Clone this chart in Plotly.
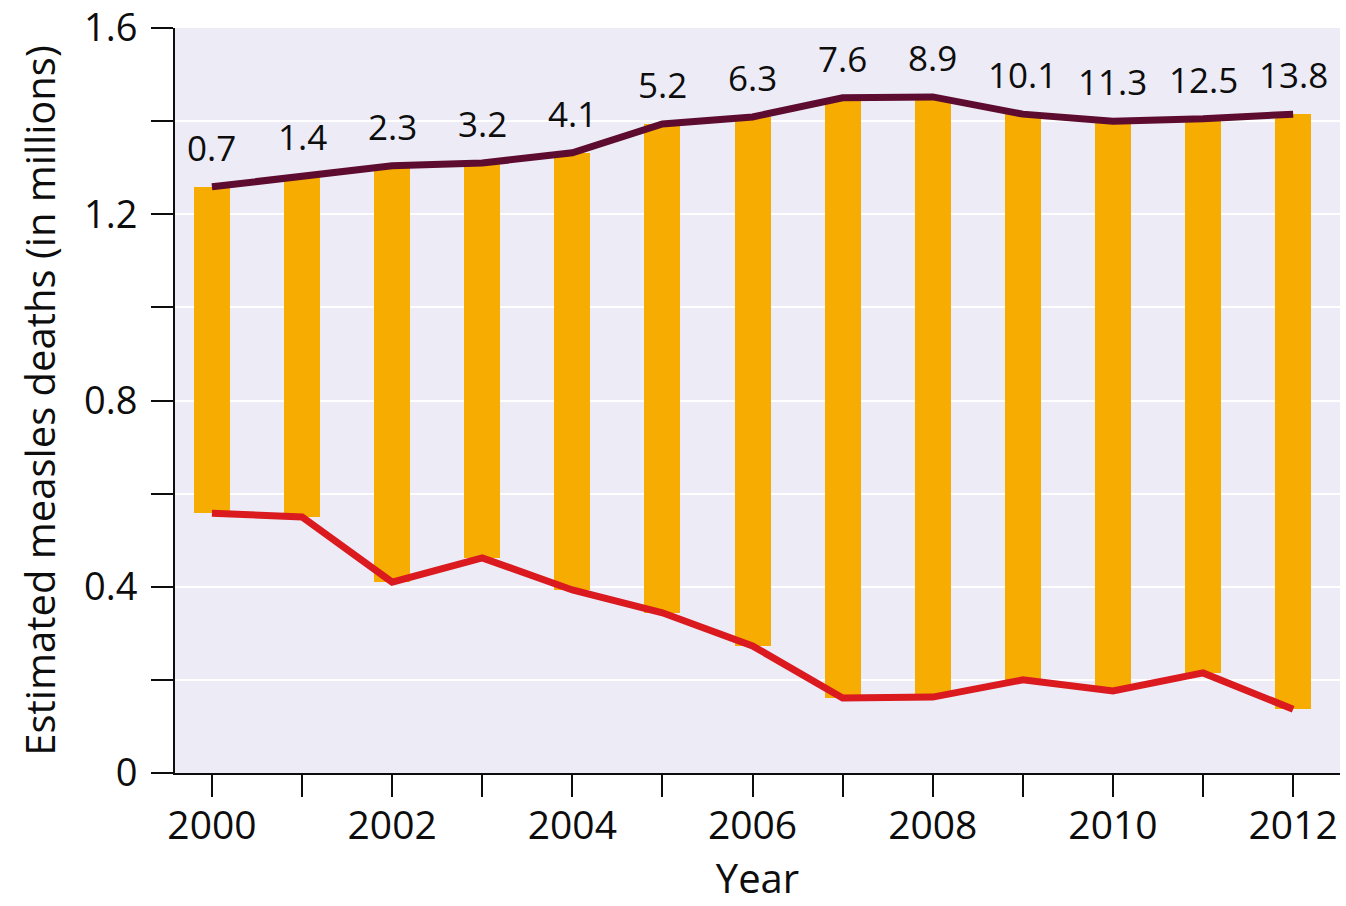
import plotly.graph_objects as go

years = list(range(2000, 2013))
upper = [1.259, 1.282, 1.304, 1.310, 1.332, 1.394, 1.409, 1.450, 1.452, 1.415, 1.400, 1.405, 1.415]
lower = [0.558, 0.550, 0.410, 0.462, 0.393, 0.344, 0.273, 0.161, 0.163, 0.200, 0.176, 0.215, 0.137]
averted_labels = ["0.7", "1.4", "2.3", "3.2", "4.1", "5.2", "6.3", "7.6", "8.9", "10.1", "11.3", "12.5", "13.8"]
y_tick_vals = [0, 0.2, 0.4, 0.6, 0.8, 1.0, 1.2, 1.4, 1.6]
y_tick_text = ["0", "", "0.4", "", "0.8", "", "1.2", "", "1.6"]
x_tick_text = [str(y) if y % 2 == 0 else "" for y in years]

FONT = "Open Sans"
INK = "#0d0d0d"

fig = go.Figure()
fig.add_trace(go.Bar(
    x=years, base=lower, y=[u - l for u, l in zip(upper, lower)],
    width=0.4, marker=dict(color="#F6AC00", line=dict(width=0)),
    showlegend=False, hoverinfo="skip",
))
fig.add_trace(go.Scatter(
    x=years, y=upper, mode="lines",
    line=dict(color="#5E0B30", width=7), showlegend=False,
))
fig.add_trace(go.Scatter(
    x=years, y=lower, mode="lines",
    line=dict(color="#DA1A1F", width=7), showlegend=False,
))

for yr, u, t in zip(years, upper, averted_labels):
    fig.add_annotation(
        x=yr, y=u, text=t, showarrow=False, yanchor="bottom", yshift=14,
        font=dict(family=FONT, size=35, color=INK),
    )

fig.update_layout(
    width=1346, height=906,
    margin=dict(l=175, r=6, t=28, b=133),
    paper_bgcolor="white",
    plot_bgcolor="#ECEBF6",
    font=dict(family=FONT, size=38, color=INK),
    bargap=0,
)
fig.update_xaxes(
    range=[1999.59, 2012.52],
    tickvals=years, ticktext=x_tick_text,
    ticks="outside", ticklen=22, tickwidth=2, tickcolor=INK,
    showline=True, linecolor=INK, linewidth=2,
    showgrid=False, zeroline=False, automargin=False,
    ticklabeloverflow="allow", ticklabelstandoff=-5,
    title=dict(text="Year", standoff=13, font=dict(size=40)),
    tickfont=dict(size=39),
)
fig.update_yaxes(
    range=[0, 1.6],
    tickvals=y_tick_vals, ticktext=y_tick_text,
    ticks="outside", ticklen=22, tickwidth=2, tickcolor=INK,
    showline=True, linecolor=INK, linewidth=2,
    showgrid=True, gridcolor="white", gridwidth=2, zeroline=False, automargin=False,
    ticklabeloverflow="allow", ticklabelstandoff=6,
    title=dict(text="Estimated measles deaths (in millions)", standoff=16, font=dict(size=40)),
    tickfont=dict(size=38),
)

# remove the browser's default 8px body margin so the figure fills the window exactly
fig.write_html(
    "out.html",
    config={"displayModeBar": False},
    post_script="document.body.style.margin='0';document.body.style.overflow='hidden';",
)
